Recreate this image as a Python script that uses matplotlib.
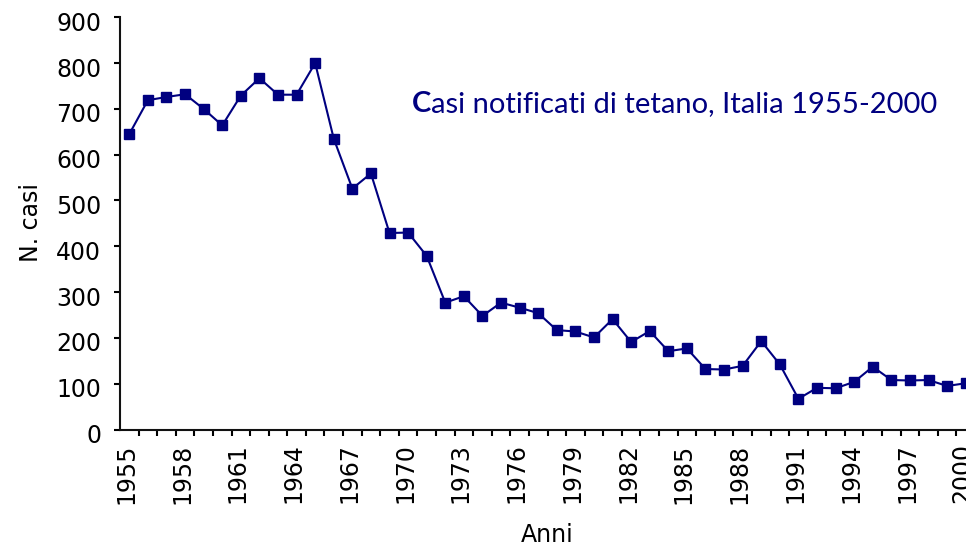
import matplotlib
matplotlib.use("Agg")
import matplotlib.pyplot as plt
from matplotlib.transforms import ScaledTranslation

years = list(range(1955, 2001))
cases = [645, 719, 726, 732, 700, 664, 729, 767, 731, 731,
         800, 635, 526, 559, 429, 430, 379, 277, 291, 248,
         277, 266, 254, 217, 214, 201, 241, 191, 215, 171,
         177, 132, 131, 139, 193, 142, 67, 91, 90, 104,
         137, 108, 107, 108, 95, 101]
label_years = list(range(1955, 2001, 3))
yticks = list(range(0, 901, 100))

navy = "#000080"
plt.rcParams["font.family"] = ["DejaVu Sans"]

fig = plt.figure(figsize=(9.66, 5.48), dpi=100)
ax = fig.add_axes([120 / 966, 118.5 / 548, 855 / 966, 412.2 / 548])

ax.plot(years, cases, color=navy, linewidth=1.5, marker="s", markersize=6.5,
        markerfacecolor=navy, markeredgecolor=navy)

ax.set_xlim(years[0] - 0.5, years[-1] + 0.5)
ax.set_ylim(0, 900)

ax.spines["top"].set_visible(False)
ax.spines["right"].set_visible(False)
for s in ("left", "bottom"):
    ax.spines[s].set_linewidth(1.5)
    ax.spines[s].set_color("#111111")

# category style: tick marks between years, labels every 3 years
ax.set_xticks(label_years)
ax.set_xticklabels([str(y) for y in label_years], rotation=90, fontsize=17)
ax.set_xticks([y + 0.5 for y in years[:-1]], minor=True)
ax.tick_params(axis="x", which="major", length=0, pad=10)
ax.tick_params(axis="x", which="minor", length=4.5, width=1.5, direction="out")
off_x = ScaledTranslation(-0.03, 0, fig.dpi_scale_trans)
for lab in ax.get_xticklabels():
    lab.set_transform(lab.get_transform() + off_x)

ax.set_yticks(yticks)
ax.set_yticklabels([str(v) for v in yticks], fontsize=17)
ax.tick_params(axis="y", length=4.5, width=1.5, pad=9)
off_y = ScaledTranslation(0, -0.04, fig.dpi_scale_trans)
for lab in ax.get_yticklabels():
    lab.set_transform(lab.get_transform() + off_y)

ax.set_xlabel("Anni", fontsize=17)
ax.xaxis.set_label_coords(0.5, -0.228)
ax.set_ylabel("N. casi", fontsize=17)
ax.yaxis.set_label_coords(-0.09, 0.503)

# title with bold first letter
t1 = fig.text(412 / 966, 1 - 112 / 548, "C", fontsize=21, fontweight="bold",
              color=navy, family="Lato", va="baseline")
fig.canvas.draw()
bb = t1.get_window_extent()
fig.text(bb.x1 / 966, 1 - 112 / 548, "asi notificati di tetano, Italia 1955-2000",
         fontsize=21, color=navy, family="Lato", va="baseline")

fig.savefig("out.png", dpi=100)
